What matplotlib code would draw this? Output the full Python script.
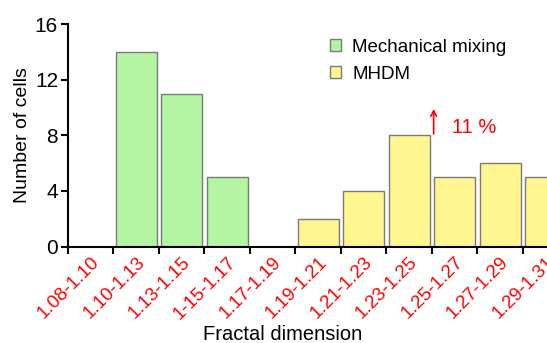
import matplotlib.pyplot as plt
from matplotlib.patches import Patch

plt.rcParams['font.family'] = ['Liberation Sans', 'DejaVu Sans']

bins = ["1.08-1.10", "1.10-1.13", "1.13-1.15", "1-15-1.17", "1.17-1.19",
        "1.19-1.21", "1.21-1.23", "1.23-1.25", "1.25-1.27", "1.27-1.29", "1.29-1.31"]
mechanical = [0, 14, 11, 5, 0, 0, 0, 0, 0, 0, 0]
mhdm = [0, 0, 0, 0, 0, 2, 4, 8, 5, 6, 5]

green = "#b3f5a3"
yellow = "#fff68f"
edge = "#7a7a7a"

fig = plt.figure(figsize=(5.47, 3.43), dpi=100)
ax = fig.add_axes([0.124, 0.281, 0.915, 0.649])

x = [i + 0.5 for i in range(len(bins))]
ax.bar(x, mechanical, width=0.9, color=green, edgecolor=edge, linewidth=1)
ax.bar(x, mhdm, width=0.9, color=yellow, edgecolor=edge, linewidth=1)

ax.set_xlim(0, len(bins))
ax.set_ylim(0, 16)
ax.set_yticks([0, 4, 8, 12, 16])
ax.set_xticks(range(len(bins) + 1))
ax.set_xticklabels([])
ax.set_xticks(x, minor=True)
ax.set_xticklabels(bins, minor=True, rotation=45, ha='right', va='top',
                   rotation_mode='anchor', color='red', fontsize=13.5)
ax.tick_params(axis='x', which='minor', length=0, pad=5)
ax.tick_params(axis='both', which='major', direction='out', length=5, width=1.5,
               labelsize=15, pad=2)
for s in ['top', 'right']:
    ax.spines[s].set_visible(False)
for s in ['left', 'bottom']:
    ax.spines[s].set_linewidth(1.5)

ax.set_ylabel("Number of cells", fontsize=14, labelpad=3)
ax.set_xlabel("Fractal dimension", fontsize=14.5)
ax.xaxis.set_label_coords(0.4286, -0.35)

handles = [Patch(facecolor=green, edgecolor=edge, label="Mechanical mixing"),
           Patch(facecolor=yellow, edgecolor=edge, label="MHDM")]
ax.legend(handles=handles, loc='upper left', bbox_to_anchor=(0.49, 1.01),
          frameon=False, fontsize=13.5, handlelength=0.6, handleheight=0.6,
          handletextpad=0.6, labelspacing=0.55)

ax.annotate("", xy=(8.04, 10.1), xytext=(8.04, 7.9),
            arrowprops=dict(arrowstyle='->', color='red', lw=1.2),
            annotation_clip=False)
ax.text(8.45, 7.85, "11 %", color='red', fontsize=14.5, va='bottom', ha='left')

fig.savefig("out.png", dpi=100)
